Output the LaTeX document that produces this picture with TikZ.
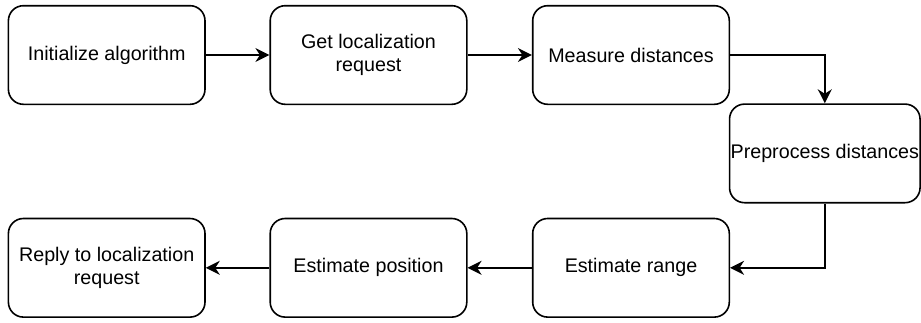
\documentclass[tikz,border=0pt]{standalone}
\usepackage{fontspec}
\setmainfont{Liberation Sans}
\usetikzlibrary{arrows.meta}
\begin{document}
\begin{tikzpicture}[x=1pt,y=-1pt,
  stepbox/.style={draw, line width=1.6pt, rounded corners=15pt, inner sep=0pt,
    minimum width=196.6pt, minimum height=98.6pt, align=center,
    font=\fontsize{19.7}{23.6}\selectfont},
  flow/.style={line width=1.6pt, -{Stealth[length=14pt,width=14pt,inset=4.5pt]}}]
\useasboundingbox (0,0) rectangle (921,322);
% top row
\node[stepbox] (init) at (106.7,55) {Initialize algorithm};
\node[stepbox] (req)  at (368.5,55) {Get localization\\request};
\node[stepbox] (meas) at (631,55)   {Measure distances};
% right column
\node[stepbox, minimum width=190.5pt] (prep) at (824.8,153.4) {Preprocess distances};
% bottom row
\node[stepbox] (range) at (631,267.8)   {Estimate range};
\node[stepbox] (pos)   at (368.5,267.8) {Estimate position};
\node[stepbox] (reply) at (106.7,267.8) {Reply to localization\\request};
% connectors
\draw[flow] (init) -- (req);
\draw[flow] (req) -- (meas);
\draw[flow] (meas.east) -| (prep.north);
\draw[flow] (prep.south) |- (range.east);
\draw[flow] (range) -- (pos);
\draw[flow] (pos) -- (reply);
\end{tikzpicture}
\end{document}
